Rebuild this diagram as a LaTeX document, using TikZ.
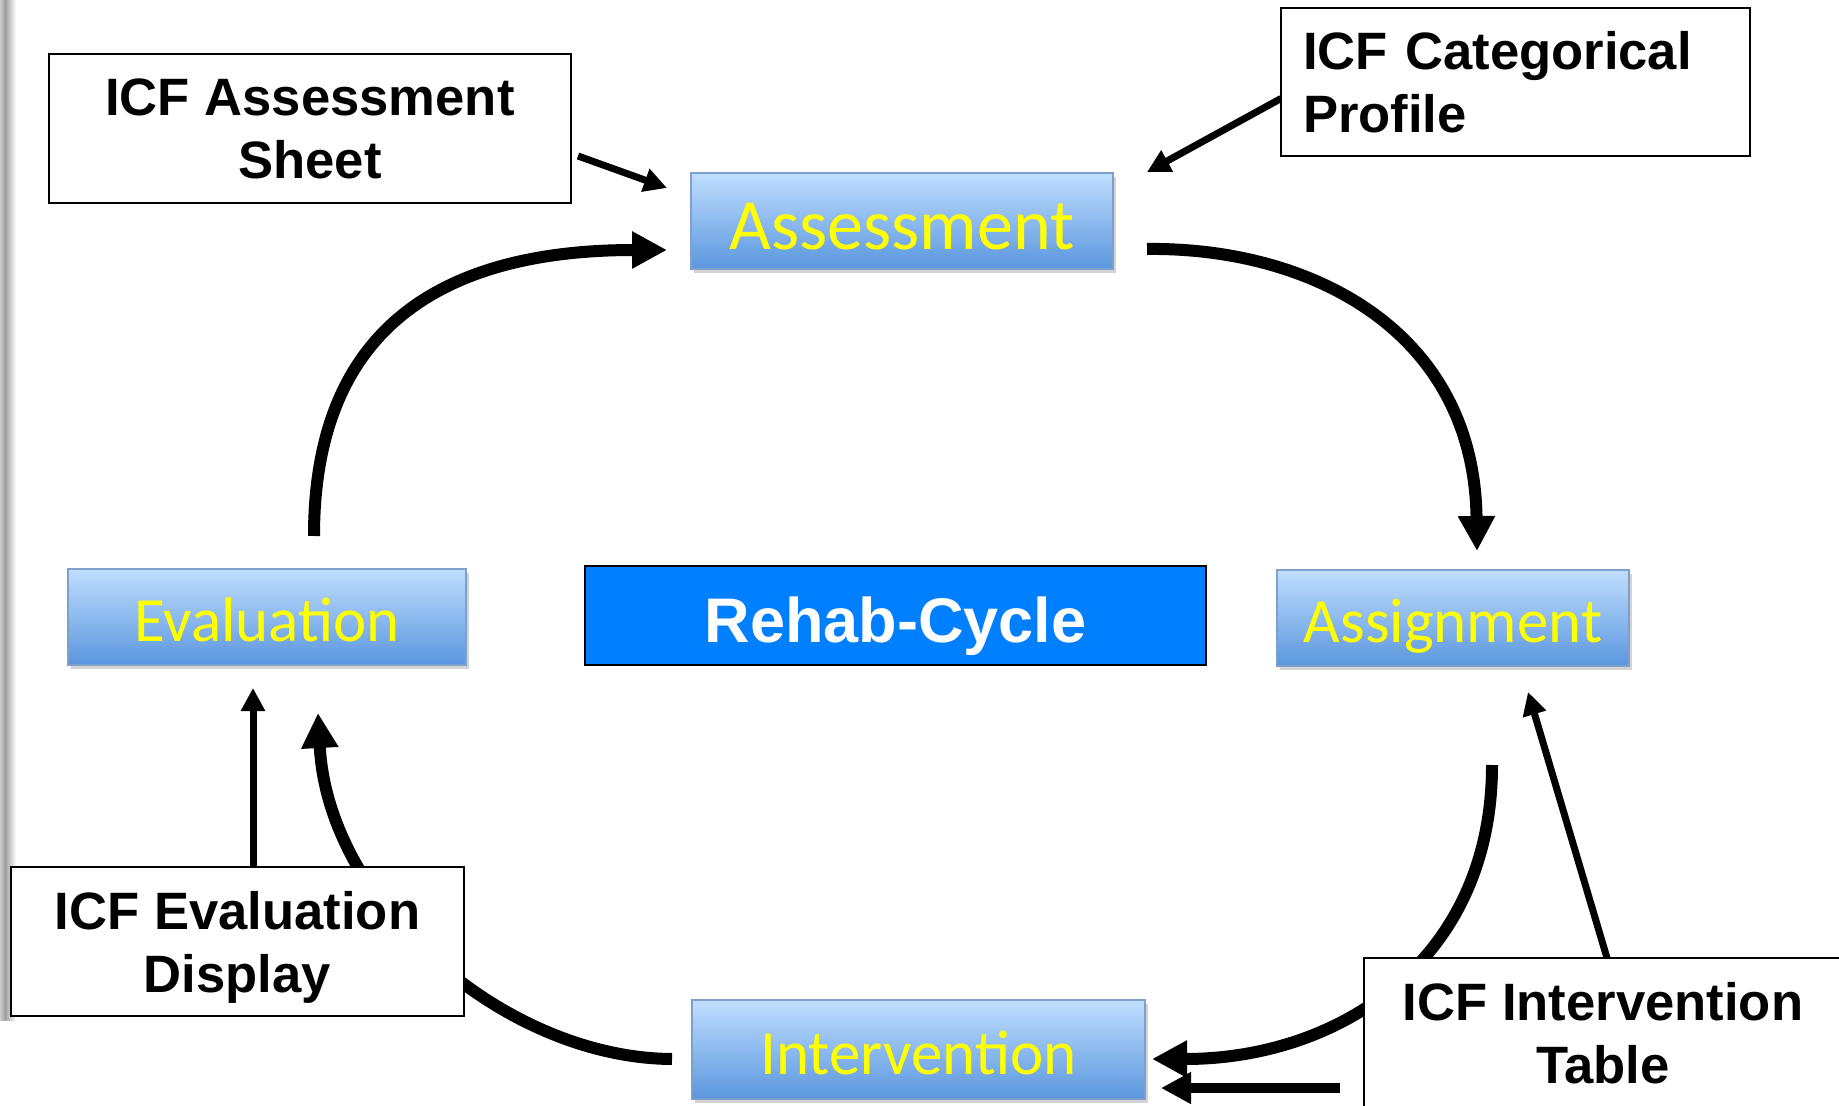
\documentclass[tikz,border=0pt]{standalone}
\usepackage{fontspec}
\setmainfont{Liberation Sans}
\newfontfamily\calfont{Carlito}
\usetikzlibrary{arrows.meta,shadows}
\definecolor{bluetop}{RGB}{192,222,255}
\definecolor{bluemid}{RGB}{152,194,245}
\definecolor{bluebot}{RGB}{90,150,222}
\definecolor{blueedge}{RGB}{125,160,205}
\definecolor{rehabblue}{RGB}{0,128,255}
\definecolor{yel}{RGB}{255,255,0}
\pgfdeclarelayer{background}
\pgfsetlayers{background,main}
\begin{document}
\begin{tikzpicture}[x=0.5pt,y=-0.5pt,
  icfbox/.style={draw=black, line width=1pt, fill=white, align=center,
    font=\fontsize{26.3}{31.5}\selectfont\bfseries, inner sep=0pt},
  flatbase/.style={text depth=0pt},
  cyclebox/.style={draw=blueedge, line width=0.6pt, top color=bluetop, middle color=bluemid,
    bottom color=bluebot, text=yel, font=\calfont\fontsize{31.5}{36}\selectfont, inner sep=0pt,
    text height=24.9pt, text depth=0pt,
    drop shadow={shadow xshift=1.5pt, shadow yshift=-2pt, opacity=0.35}},
  bigarrow/.style={line width=6pt, -{Triangle[length=17.5pt,width=17.5pt]}},
  midarrow/.style={line width=5pt, -{Triangle[length=15pt,width=15pt]}},
  smallarrow/.style={line width=3.5pt, -{Triangle[length=11.5pt,width=11.5pt]}},
]
\useasboundingbox (0,0) rectangle (1839,1106);
% left gray strip
\shade[left color=gray!40, right color=gray!75] (0,0) rectangle (5,1020);
\shade[left color=gray!75, right color=white] (5,0) rectangle (16,1020);

% cycle nodes
\node[cyclebox, minimum width=211pt, minimum height=48pt, text height=28.4pt,
  font=\calfont\fontsize{36}{40}\selectfont] (assess) at (902,221) {Assessment};
\node[cyclebox, minimum width=176pt, minimum height=48pt] (assign) at (1453,618) {Assignment};
\node[cyclebox, minimum width=226.5pt, minimum height=49.5pt] (interv) at (918.5,1049.5) {Intervention};
\node[cyclebox, minimum width=199pt, minimum height=48pt] (evalu) at (267,617) {Evaluation};
\node[draw=black, line width=1pt, fill=rehabblue, text=white, inner sep=0pt,
  minimum width=310.5pt, minimum height=49.5pt, text height=27.4pt, text depth=0pt,
  font=\fontsize{31.5}{36}\selectfont\bfseries] (rehab) at (895.5,615.5) {Rehab-Cycle};

% ICF boxes
\node[icfbox, flatbase, minimum width=261pt, minimum height=74.5pt] (asheet) at (310,128.5) {ICF Assessment\\Sheet};
\node[icfbox, text width=212.5pt, inner xsep=11pt, align=left, minimum height=74pt] (catprof) at (1515.5,82) {ICF Categorical\\Profile};
\node[icfbox, flatbase, minimum width=226.5pt, minimum height=74.5pt] (evdisp) at (237.5,941.5) {ICF Evaluation\\Display};
\node[icfbox, flatbase, minimum width=239pt, minimum height=74.5pt] (intab) at (1603,1032.5) {ICF Intervention\\Table};

% connector end points
\coordinate (asheetOut) at (578,156);
\coordinate (assessInA) at (667,188);
\coordinate (catprofOut) at (1281,98.5);
\coordinate (assessInC) at (1147,172);
\coordinate (evaluOut) at (314,536);
\coordinate (assessInE) at (667,250);
\coordinate (assessOut) at (1147,249);
\coordinate (assignIn) at (1477,551);
\coordinate (assignOut) at (1492,765);
\coordinate (intervIn) at (1152,1059);
\coordinate (intervOut) at (672,1059);
\coordinate (evaluIn) at (318,713);
\coordinate (evdispOut) at (253,867);
\coordinate (evaluInD) at (253,688);
\coordinate (intabOut) at (1607,958);
\coordinate (assignInT) at (1528,692);
\coordinate (intabOutB) at (1340,1088);
\coordinate (intervInT) at (1161,1088);

\begin{pgfonlayer}{background}
\draw[smallarrow] (asheetOut) -- (assessInA);
\draw[smallarrow] (catprofOut) -- (assessInC);
\draw[bigarrow] (evaluOut) .. controls (314,330) and (440,250) .. (assessInE);
\draw[bigarrow] (assessOut) .. controls (1310,247) and (1474,330) .. (assignIn);
\draw[bigarrow] (assignOut) .. controls (1492,960) and (1340,1059) .. (intervIn);
\draw[bigarrow] (intervOut) .. controls (505,1058) and (328,905) .. (evaluIn);
\draw[smallarrow] (evdispOut) -- (evaluInD);
\draw[smallarrow] (intabOut) -- (assignInT);
\draw[midarrow] (intabOutB) -- (intervInT);
\end{pgfonlayer}
\end{tikzpicture}
\end{document}
